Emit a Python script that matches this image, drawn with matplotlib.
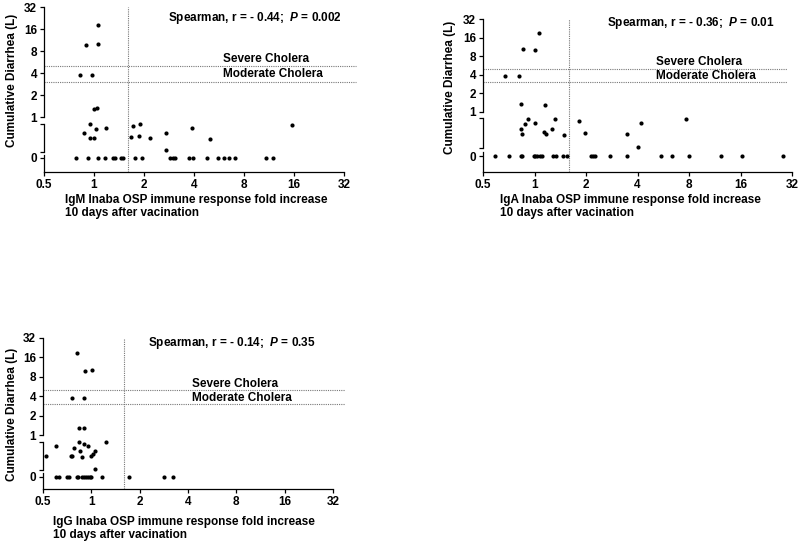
import numpy as np
import matplotlib
matplotlib.use('Agg')
import matplotlib.pyplot as plt

plt.rcParams['font.family'] = ['Liberation Sans', 'DejaVu Sans']
plt.rcParams['font.weight'] = 'bold'
plt.rcParams['mathtext.fontset'] = 'custom'
plt.rcParams['mathtext.it'] = 'Liberation Sans:italic:bold'
plt.rcParams['mathtext.rm'] = 'Liberation Sans:bold'

# ---- data (fold increase, cumulative diarrhea in L) ----
igm_fold = [1.05, 0.90, 1.06, 0.82, 0.97, 1.00, 1.04,
            0.95, 0.87, 1.03, 1.18, 0.95, 1.00,
            1.72, 1.89, 1.67, 1.87, 2.16, 2.71, 2.70, 3.91, 5.02, 15.6,
            0.78, 0.92, 1.06, 1.17, 1.30, 1.34, 1.45, 1.50, 1.77, 1.94, 2.87,
            2.99, 3.07, 3.73, 3.96, 4.79, 5.58, 6.06, 6.53, 7.06, 10.9, 11.9]
igm_diarrhea = [18.3, 9.8, 10.1, 3.8, 3.8, 1.30, 1.34,
                0.89, 0.64, 0.75, 0.79, 0.50, 0.50,
                0.84, 0.89, 0.53, 0.55, 0.51, 0.64, 0.16, 0.79, 0.48, 0.88,
                0, 0, 0, 0, 0, 0, 0, 0, 0, 0, 0,
                0, 0, 0, 0, 0, 0, 0, 0, 0, 0, 0]

iga_fold = [1.065, 0.86, 1.00, 0.67, 0.81, 0.83, 1.15,
            0.83, 0.84, 0.88, 0.92, 1.01, 1.13, 1.16, 1.26, 1.32, 1.49, 1.82,
            1.98, 3.48, 4.00, 4.21, 7.73,
            0.59, 0.71, 0.83, 0.85, 0.99, 1.01, 1.04, 1.07, 1.11, 1.29, 1.34,
            1.47, 1.54, 2.15, 2.20, 2.27, 2.78, 3.49, 5.47, 6.33, 8.0, 12.3,
            16.4, 28.3]
iga_diarrhea = [19.2, 10.4, 10.1, 3.8, 3.8, 1.35, 1.30,
                0.61, 0.47, 0.73, 0.87, 0.76, 0.52, 0.47, 0.61, 0.87, 0.44, 0.82,
                0.49, 0.47, 0.12, 0.77, 0.87,
                0, 0, 0, 0, 0, 0, 0, 0, 0, 0, 0,
                0, 0, 0, 0, 0, 0, 0, 0, 0, 0, 0,
                0, 0]

igg_fold = [0.81, 0.91, 1.01, 0.76, 0.90, 0.84, 0.90,
            0.52, 0.60, 0.78, 0.75, 0.76, 0.84, 0.85, 0.875, 0.905, 0.95, 1.00,
            1.03, 1.05, 1.05, 1.23,
            0.60, 0.63, 0.71, 0.73, 0.81, 0.83, 0.87, 0.90, 0.92, 0.95, 0.98,
            1.00, 1.17, 1.71, 2.82, 3.24]
igg_diarrhea = [18.5, 9.8, 10.1, 3.8, 3.8, 1.27, 1.30,
                0.50, 0.79, 0.74, 0.50, 0.50, 0.90, 0.64, 0.46, 0.84, 0.79, 0.51,
                0.55, 0.64, 0.14, 0.90,
                0, 0, 0, 0, 0, 0, 0, 0, 0, 0, 0,
                0, 0, 0, 0, 0]

isotypes = ['IgM', 'IgA', 'IgG']
spearman_r = ['- 0.44', '- 0.36', '- 0.14']
spearman_p = ['0.002', '0.01', '0.35']
fold_ticks = [0.5, 1, 2, 4, 8, 16, 32]
diarrhea_ticks = [0, 1, 2, 4, 8, 16, 32]
fold_cut = 1.6
severe_cut = 5
moderate_cut = 3

W, H = 800, 544
fig = plt.figure(figsize=(W / 100, H / 100), dpi=100)


def fx(x):
    return x / W


def fy(y):
    return 1 - y / H


def diarrhea_scale(band_top, band_bot, zero_u):
    # log2 above 1 L, a broken linear band for 0..1 L
    vk = np.array([0.0, 0.1, 0.9, 1.0])
    uk = np.array([zero_u, band_bot, band_top, 0.0])
    slope0 = (band_bot - zero_u) / 0.1

    def fwd(v):
        v = np.asarray(v, dtype=float)
        low = np.interp(v, vk, uk)
        low = np.where(v < 0, zero_u + v * slope0, low)
        return np.where(v >= 1, np.log2(np.maximum(v, 1)), low)

    def inv(u):
        u = np.asarray(u, dtype=float)
        low = np.interp(u, uk, vk)
        low = np.where(u < zero_u, (u - zero_u) / slope0, low)
        return np.where(u >= 0, 2.0 ** np.maximum(u, 0), low)
    return fwd, inv


# pixel layout: left, right(32), top, bottom, scale parts, hline end, text spots
panels = [
    dict(box=(44, 344, 7, 172), parts=(-0.32, -1.59, -1.86, -2.5), hend=38,
         sp=(168, 18), sev=(223, 59), mod=(223, 74), yl=(12, 80), xl=(65, 206.5)),
    dict(box=(483, 792, 19, 172), parts=(-0.32, -1.94, -2.37, -3.23), hend=30,
         sp=(607, 23), sev=(656, 62), mod=(656, 76), yl=(450, 87), xl=(500, 206.5)),
    dict(box=(43, 333, 338, 489), parts=(-0.36, -1.80, -2.16, -2.78), hend=38,
         sp=(148, 343), sev=(192, 384), mod=(192, 398), yl=(12, 414), xl=(53, 528.5)),
]
folds = [igm_fold, iga_fold, igg_fold]
diarrheas = [igm_diarrhea, iga_diarrhea, igg_diarrhea]

for i, p in enumerate(panels):
    l, r, t, b = p['box']
    ax = fig.add_axes([fx(l), fy(b), (r - l) / W, (b - t) / H])
    band_top, band_bot, zero_u, bottom_u = p['parts']
    fwd, inv = diarrhea_scale(band_top, band_bot, zero_u)
    ax.set_yscale('function', functions=(fwd, inv))
    ax.set_xscale('log', base=2)
    ax.set_xlim(0.5, 32)
    ax.set_ylim(float(inv(bottom_u)), 32)

    ax.scatter(folds[i], diarrheas[i], s=9, color='black', zorder=3,
               clip_on=False, linewidths=0)

    ax.axvline(fold_cut, color='#777777', lw=0.8, ls=(0, (1, 1)))
    for cut in (severe_cut, moderate_cut):
        ax.hlines(cut, 0.5, p['hend'], color='#777777', lw=0.8,
                  ls=(0, (1, 1)), clip_on=False)

    for s in ('top', 'right'):
        ax.spines[s].set_visible(False)
    ax.spines['left'].set_bounds(1, 32)
    ax.spines['left'].set_linewidth(0.9)
    ax.spines['bottom'].set_linewidth(0.9)
    ytr = ax.get_yaxis_transform()
    ax.plot([0, 0], [0.1, 0.9], transform=ytr, color='black', lw=0.9, clip_on=False)
    ax.plot([0, 0], [0.05, float(inv(bottom_u))], transform=ytr, color='black',
            lw=0.9, clip_on=False)

    ax.set_xticks(fold_ticks)
    ax.set_xticklabels(['0.5', '1', '2', '4', '8', '16', '32'])
    ax.xaxis.set_minor_locator(matplotlib.ticker.NullLocator())
    ax.set_yticks([0, 0.1, 0.9] + diarrhea_ticks[1:])
    ax.set_yticklabels(['0', '', ''] + [str(v) for v in diarrhea_ticks[1:]])
    ax.yaxis.set_minor_locator(matplotlib.ticker.NullLocator())
    ax.tick_params(length=3, width=0.9, labelsize=8.5, pad=2)
    for lab in ax.get_xticklabels() + ax.get_yticklabels():
        lab.set_fontweight('bold')

    fig.text(fx(p['sp'][0]), fy(p['sp'][1]),
             'Spearman, r = %s;  $\\it{P}$ = %s' % (spearman_r[i], spearman_p[i]),
             ha='left', va='center', fontsize=8.5, fontweight='bold')
    fig.text(fx(p['sev'][0]), fy(p['sev'][1]), 'Severe Cholera',
             ha='left', va='center', fontsize=8.5, fontweight='bold')
    fig.text(fx(p['mod'][0]), fy(p['mod'][1]), 'Moderate Cholera',
             ha='left', va='center', fontsize=8.5, fontweight='bold')
    fig.text(fx(p['yl'][0]), fy(p['yl'][1]), 'Cumulative Diarrhea (L)',
             rotation=90, ha='center', va='center', fontsize=8.5, fontweight='bold')
    fig.text(fx(p['xl'][0]), fy(p['xl'][1]),
             '%s Inaba OSP immune response fold increase\n10 days after vacination'
             % isotypes[i], ha='left', va='center', fontsize=8.5,
             fontweight='bold', linespacing=1.1)

fig.savefig('out.png', dpi=100, facecolor='white')
